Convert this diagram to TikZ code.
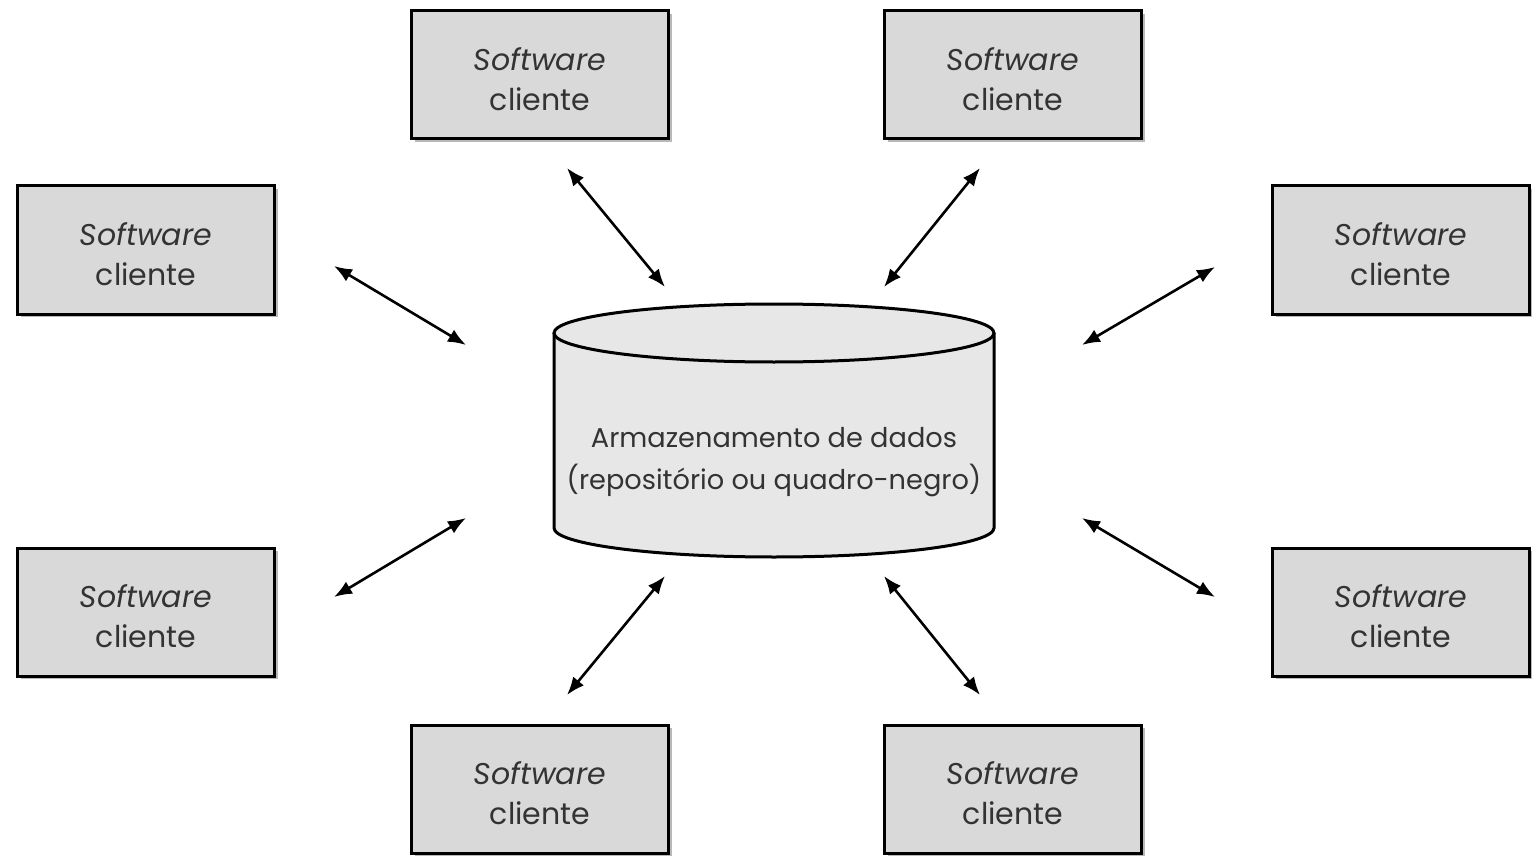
\documentclass[tikz,border=0pt]{standalone}
\usepackage{fontspec}
\setmainfont{Poppins}
\usepackage{tikz}
\usetikzlibrary{arrows.meta, shadows, positioning}
\definecolor{boxgray}{HTML}{D9D9D9}
\definecolor{dbgray}{HTML}{E7E7E7}
\definecolor{txtgray}{HTML}{333333}
\tikzstyle{client}=[rectangle, draw=black, fill=boxgray, line width=1.5pt, minimum width=128.5pt, minimum height=64pt, align=center, text=txtgray, font=\fontsize{15}{20}\selectfont, drop shadow={shadow xshift=1.5pt, shadow yshift=-1.5pt, fill=black!55}]
\tikzstyle{link}=[{Latex[length=9pt,width=7pt]}-{Latex[length=9pt,width=7pt]}, line width=1.3pt]
\newcommand{\clientlabel}{\rule{0pt}{16pt}\textit{Software}\\cliente}

\begin{document}
\begin{tikzpicture}[x=0.5pt, y=-0.5pt]
    \useasboundingbox (0,0) rectangle (1532,856);

    % data store
    \fill[dbgray] (554,333) -- (554,528) arc[start angle=180, end angle=360, x radius=110pt, y radius=14.5pt] -- (994,333) -- cycle;
    \draw[line width=1.5pt] (554,333) -- (554,528) arc[start angle=180, end angle=360, x radius=110pt, y radius=14.5pt] -- (994,333);
    \draw[line width=1.5pt, fill=dbgray] (774,333) ellipse [x radius=110pt, y radius=14.5pt];
    \node (db) at (774,462) [align=center, text=txtgray, font=\fontsize{13.6}{21}\selectfont] {Armazenamento de dados\\(repositório ou quadro-negro)};

    % clients
    \node[client] (c1) at (540,75) {\clientlabel};
    \node[client] (c2) at (1013,75) {\clientlabel};
    \node[client] (c3) at (146,250) {\clientlabel};
    \node[client] (c4) at (1401,250) {\clientlabel};
    \node[client] (c5) at (146,612) {\clientlabel};
    \node[client] (c6) at (1401,612) {\clientlabel};
    \node[client] (c7) at (540,789) {\clientlabel};
    \node[client] (c8) at (1013,789) {\clientlabel};

    % arrow ends
    \coordinate (p1) at (567,168); \coordinate (q1) at (665,287);
    \coordinate (p2) at (980,168); \coordinate (q2) at (884,287);
    \coordinate (p3) at (334,266); \coordinate (q3) at (466,345);
    \coordinate (p4) at (1215,267); \coordinate (q4) at (1082,345);
    \coordinate (p5) at (334,597); \coordinate (q5) at (466,518);
    \coordinate (p6) at (1215,597); \coordinate (q6) at (1082,518);
    \coordinate (p7) at (567,695); \coordinate (q7) at (665,576);
    \coordinate (p8) at (980,695); \coordinate (q8) at (884,576);

    \foreach \i in {1,...,8}
        \draw[link] (p\i) -- (q\i);
\end{tikzpicture}
\end{document}
